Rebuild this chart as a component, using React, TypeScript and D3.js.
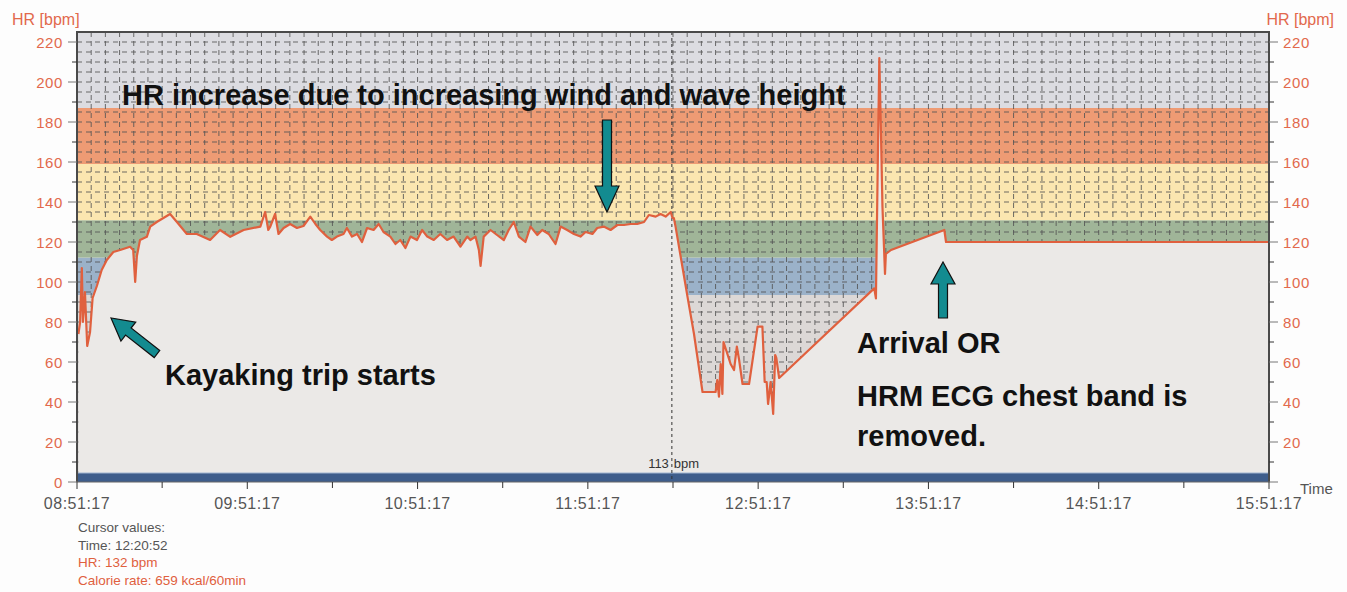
import * as d3 from "d3";
import { useMemo } from "react";

const W = 1347;
const H = 592;
const PLOT = { left: 77, right: 1269, top: 32, bottom: 482 };

// minutes elapsed since 08:51:17 and heart rate
const elapsedMin = [
  0.5, 1.1, 1.7, 2.1, 2.8, 3.6, 4.6, 5.5, 7.0, 8.7, 10.5, 12.8, 15.2, 18.7, 19.8, 20.5, 21.1, 22.2,
  24.6, 25.8, 28.1, 32.8, 35.2, 38.7, 42.2, 46.9, 50.4, 54.0, 58.7, 64.6, 66.3, 67.4, 68.1, 69.8,
  71.0, 72.8, 75.1, 77.5, 79.8, 82.2, 84.0, 85.7, 88.1, 89.8, 91.6, 93.9, 95.1, 96.9, 98.7, 100.4,
  102.2, 104.5, 106.3, 108.0, 110.4, 112.2, 113.9, 115.7, 117.5, 119.8, 121.6, 123.4, 125.7, 128.0,
  130.4, 132.7, 135.1, 137.5, 138.6, 140.4, 141.6, 142.2, 143.3, 145.7, 148.0, 150.4, 152.1, 153.9,
  155.7, 158.0, 159.8, 162.2, 163.9, 166.2, 168.6, 170.4, 172.7, 175.1, 177.4, 179.2, 181.6, 183.3,
  185.6, 188.0, 190.4, 192.7, 195.1, 197.4, 199.8, 201.5, 203.9, 205.6, 207.4, 209.2, 209.8, 210.3,
  210.9, 215.1, 217.4, 220.4, 225.0, 225.6, 226.2, 226.8, 227.4, 227.8, 230.3, 231.5, 232.5, 233.3,
  234.5, 236.8, 239.8, 241.5, 242.3, 243.0, 243.5, 244.4, 245.3, 246.0, 246.4, 247.4, 280.9, 281.5,
  282.1, 282.7, 283.3, 283.8, 284.7, 285.0, 286.8, 305.6, 306.2, 420,
];
const hr = [
  74, 80, 107, 80, 95, 68, 75, 92, 98, 106, 111, 115, 116, 117.6, 116, 100, 113, 121,
  122.6, 127.7, 130, 134, 130, 124, 124, 121, 126, 122.6, 126, 127.7, 135, 126, 127.7, 134,
  124, 127, 129, 127, 128, 132.7, 129, 126, 122.7, 121, 122.7, 124, 127, 122.7, 124, 120,
  127, 126, 129, 125, 122.7, 119, 121, 117, 122.7, 121, 126, 122.7, 121, 124,
  121, 122.7, 117.7, 122.7, 121, 122.7, 116, 108, 122.7, 126, 123.5, 121, 126, 130,
  122.7, 120, 127.7, 123.5, 126, 124, 119, 127.7, 126, 124, 122.7, 125, 124, 127,
  127.7, 126, 128.5, 128.5, 129, 129, 130, 133.5, 132.7, 134, 132.7, 135, 132, 132,
  127.7, 92.7, 74, 45, 45, 51, 42.7, 59, 44, 70, 59, 56, 67.7, 61,
  49, 49, 77.7, 77.7, 50, 50, 39, 50, 34, 63.5, 62, 52, 96.8, 91.8,
  154, 212, 172.7, 137.7, 104, 114, 116, 126, 120, 120,
];

// heart-rate zones (50/60/70/85/100 % of 187 bpm max)
const zoneEdges = [0, 93.5, 112.2, 130.9, 159, 187, 225];
const zoneColors = ["#dcd8d6", "#9bb2c9", "#a0b598", "#fbe6b0", "#ee9b74", "#dcdce1"];

const yTicks = [0, 20, 40, 60, 80, 100, 120, 140, 160, 180, 200, 220];
const xTickLabels = ["08:51:17", "09:51:17", "10:51:17", "11:51:17", "12:51:17", "13:51:17", "14:51:17", "15:51:17"];

const cursorMin = 209.6;
const cursorLines = [
  { text: "Cursor values:", color: "#555" },
  { text: "Time: 12:20:52", color: "#555" },
  { text: "HR: 132 bpm", color: "#e0603e" },
  { text: "Calorie rate: 659 kcal/60min", color: "#e0603e" },
];

const START = new Date(2000, 0, 1, 8, 51, 17);
const toDate = (m: number) => new Date(START.getTime() + m * 60000);

const AXIS_RED = "#e2694c";
const LINE_RED = "#e0603e";
const TEAL = "#138b90";

function arrowPath(tip: [number, number], tail: [number, number], shaftW: number, headW: number, headL: number) {
  const dx = tip[0] - tail[0];
  const dy = tip[1] - tail[1];
  const len = Math.hypot(dx, dy);
  const ux = dx / len, uy = dy / len;
  const px = -uy, py = ux;
  const bx = tip[0] - ux * headL, by = tip[1] - uy * headL;
  const pts = [
    [tail[0] + px * shaftW / 2, tail[1] + py * shaftW / 2],
    [bx + px * shaftW / 2, by + py * shaftW / 2],
    [bx + px * headW / 2, by + py * headW / 2],
    tip,
    [bx - px * headW / 2, by - py * headW / 2],
    [bx - px * shaftW / 2, by - py * shaftW / 2],
    [tail[0] - px * shaftW / 2, tail[1] - py * shaftW / 2],
  ];
  return "M" + pts.map((p) => p.join(",")).join("L") + "Z";
}

export default function App() {
  const x = useMemo(
    () => d3.scaleTime().domain([START, toDate(420)]).range([PLOT.left, PLOT.right]),
    []
  );
  const y = useMemo(() => d3.scaleLinear().domain([0, 225]).range([PLOT.bottom, PLOT.top]), []);

  const points = elapsedMin.map((m, i) => ({ t: toDate(m), v: hr[i] }));
  const area = d3.area<{ t: Date; v: number }>().x((d) => x(d.t)).y0(y(0)).y1((d) => y(d.v));
  const line = d3.line<{ t: Date; v: number }>().x((d) => x(d.t)).y((d) => y(d.v));

  const gridH = d3.range(5, 225, 5);
  const gridV = d3.range(5, 420, 5).map(toDate);
  const majorX = d3.range(0, 421, 60).map(toDate);
  const minorX = d3.range(30, 421, 60).map(toDate);
  const minorY = d3.range(10, 225, 20);

  const font = "'Liberation Sans', Arial, sans-serif";
  const cx = x(toDate(cursorMin));

  return (
    <svg width={W} height={H} style={{ position: "absolute", left: 0, top: 0, background: "#fdfdfd" }} fontFamily={font}>
      <defs>
        <clipPath id="plot">
          <rect x={PLOT.left} y={PLOT.top} width={PLOT.right - PLOT.left} height={PLOT.bottom - PLOT.top} />
        </clipPath>
      </defs>
      <g clipPath="url(#plot)">
        {zoneColors.map((c, i) => (
          <rect key={i} x={PLOT.left} width={PLOT.right - PLOT.left} y={y(zoneEdges[i + 1])}
            height={y(zoneEdges[i]) - y(zoneEdges[i + 1])} fill={c} />
        ))}
        {gridH.map((v) => (
          <line key={"h" + v} x1={PLOT.left} x2={PLOT.right} y1={y(v)} y2={y(v)}
            stroke="#555" strokeWidth={1} strokeDasharray="5,4" opacity={0.85} />
        ))}
        {gridV.map((d, i) => (
          <line key={"v" + i} x1={x(d)} x2={x(d)} y1={PLOT.top} y2={PLOT.bottom}
            stroke="#555" strokeWidth={1} strokeDasharray="5,4" opacity={0.85} />
        ))}
        <path d={area(points) ?? ""} fill="#ebe9e7" />
        <rect x={PLOT.left} width={PLOT.right - PLOT.left} y={y(4.5)} height={y(0) - y(4.5)} fill="#3e5d8b" />
        <line x1={PLOT.left} x2={PLOT.right} y1={y(4.5)} y2={y(4.5)} stroke="#9fb4d0" strokeWidth={1} />
        <line x1={cx} x2={cx} y1={PLOT.top} y2={PLOT.bottom} stroke="#333" strokeWidth={1} strokeDasharray="3,3" />
        <path d={line(points) ?? ""} fill="none" stroke={LINE_RED} strokeWidth={2.2} strokeLinejoin="round" />
      </g>

      {/* frame */}
      <path d={`M${PLOT.left},${PLOT.bottom}V${PLOT.top}H${PLOT.right}V${PLOT.bottom}`} fill="none" stroke="#4a4a4a" strokeWidth={2} />
      <line x1={PLOT.left} x2={PLOT.right} y1={PLOT.bottom} y2={PLOT.bottom} stroke="#666" strokeWidth={1} />

      {/* y axes */}
      {yTicks.map((v) => (
        <g key={"yt" + v}>
          <line x1={PLOT.left - 9} x2={PLOT.left} y1={y(v)} y2={y(v)} stroke="#777" />
          <text x={PLOT.left - 14} y={y(v) + 5.5} textAnchor="end" fontSize={15} letterSpacing={0.6} fill={AXIS_RED}>{v}</text>
          {v > 0 && (
            <>
              <line x1={PLOT.right} x2={PLOT.right + 9} y1={y(v)} y2={y(v)} stroke="#777" />
              <text x={PLOT.right + 14} y={y(v) + 5.5} fontSize={15} letterSpacing={0.6} fill={AXIS_RED}>{v}</text>
            </>
          )}
        </g>
      ))}
      {minorY.map((v) => (
        <g key={"ym" + v}>
          <line x1={PLOT.left - 5} x2={PLOT.left} y1={y(v)} y2={y(v)} stroke="#333" />
          <line x1={PLOT.right} x2={PLOT.right + 5} y1={y(v)} y2={y(v)} stroke="#333" />
        </g>
      ))}
      <line x1={PLOT.right} x2={PLOT.right + 9} y1={y(0)} y2={y(0)} stroke="#777" />
      <text x={12} y={25} fontSize={16} fill={AXIS_RED}>HR [bpm]</text>
      <text x={1334} y={25} fontSize={16} fill={AXIS_RED} textAnchor="end">HR [bpm]</text>

      {/* x axis */}
      {majorX.map((d, i) => (
        <g key={"xt" + i}>
          <line x1={x(d)} x2={x(d)} y1={PLOT.bottom} y2={PLOT.bottom + 7} stroke="#333" />
          <text x={x(d)} y={509} textAnchor="middle" fontSize={16} letterSpacing={0.5} fill="#555">{xTickLabels[i]}</text>
        </g>
      ))}
      {minorX.map((d, i) => (
        <line key={"xm" + i} x1={x(d)} x2={x(d)} y1={PLOT.bottom} y2={PLOT.bottom + 6} stroke="#333" />
      ))}
      <text x={1300} y={494} fontSize={15} fill="#555">Time</text>

      {/* cursor */}
      <text x={cx - 3} y={468} textAnchor="end" fontSize={13} fill="#333">113</text>
      <text x={cx + 2} y={468} fontSize={13} fill="#333">bpm</text>
      {cursorLines.map((l, i) => (
        <text key={i} x={78} y={532 + i * 17.7} fontSize={13.5} fill={l.color}>{l.text}</text>
      ))}

      {/* annotations */}
      <g fontWeight="bold" fontSize={29} fill="#111">
        <text x={122} y={105}>HR increase due to increasing wind and wave height</text>
        <text x={165} y={385}>Kayaking trip starts</text>
        <text x={857} y={353}>Arrival OR</text>
        <text x={857} y={406}>HRM ECG chest band is</text>
        <text x={857} y={446}>removed.</text>
      </g>
      <g fill={TEAL} stroke="#111" strokeWidth={1.2}>
        <path d={arrowPath([607, 212], [607, 120], 9, 24, 26)} />
        <path d={arrowPath([943, 262], [943, 318], 9, 24, 22)} />
        <path d={arrowPath([111, 318], [157, 354], 9, 24, 22)} />
      </g>
    </svg>
  );
}
